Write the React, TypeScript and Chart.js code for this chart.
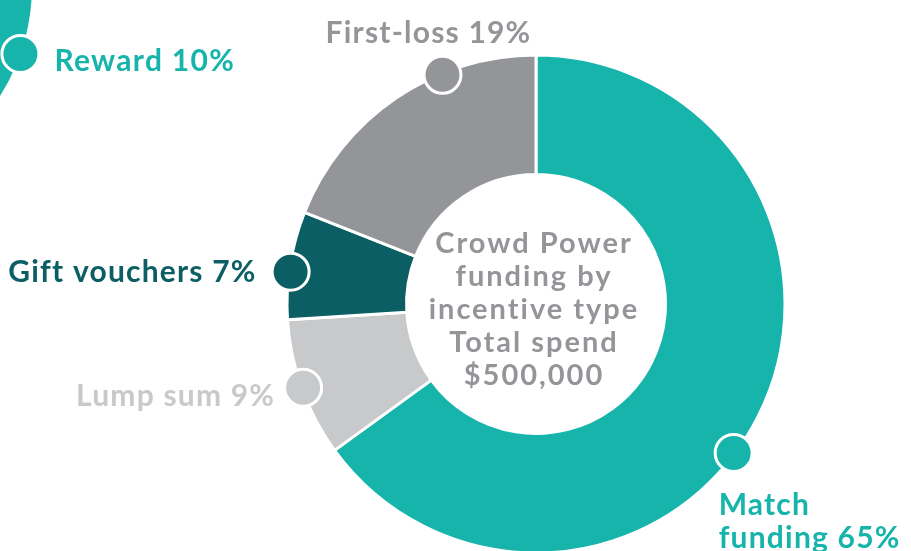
import React, { useEffect, useRef } from "react";
import { Chart, registerables } from "chart.js";

Chart.register(...registerables);

const categories = ["Match funding", "Lump sum", "Gift vouchers", "First-loss"];
const shares = [65, 9, 7, 19];
const labelLines = [["Match", "funding 65%"], ["Lump sum 9%"], ["Gift vouchers 7%"], ["First-loss 19%"]];
const colors = ["#17B4AC", "#C8C9CB", "#0B5F64", "#939598"];
const centerLines = ["Crowd Power", "funding by", "incentive type", "Total spend", "$500,000"];
const rewardLabel = "Reward 10%";

// label placement styling (degrees shift of marker from segment middle, text offsets)
const markerShift = [10, 0, -1.5, 12];
const textStyle = [
  { dx: -15, dy: 62, align: "left" as CanvasTextAlign },
  { dx: -28, dy: 18, align: "right" as CanvasTextAlign },
  { dx: -34, dy: 10, align: "right" as CanvasTextAlign },
  { dx: -14, dy: -32, align: "center" as CanvasTextAlign },
];

const FONT = "Lato, 'Open Sans', sans-serif";

function setSpacing(ctx: any, v: string) {
  try {
    ctx.letterSpacing = v;
  } catch (e) {}
}

const labelPlugin = {
  id: "labelPlugin",
  afterDraw(chart: any) {
    const ctx = chart.ctx as CanvasRenderingContext2D;
    const meta = chart.getDatasetMeta(0);
    const arcs = meta.data;
    if (!arcs.length) return;
    const a0 = arcs[0];
    const cx = a0.x, cy = a0.y;
    const R = a0.outerRadius - 1.5;

    // partial "Reward" ring in the corner
    ctx.save();
    const rcx = -173, rcy = -14, rR = 205;
    ctx.fillStyle = colors[0];
    ctx.beginPath();
    ctx.arc(rcx, rcy, rR, 0, Math.PI * 2);
    ctx.fill();
    const rAng = Math.atan2(54 - rcy, 20.5 - rcx);
    const rmx = rcx + rR * Math.cos(rAng), rmy = rcy + rR * Math.sin(rAng);
    ctx.beginPath();
    ctx.arc(rmx, rmy, 18.5, 0, Math.PI * 2);
    ctx.fillStyle = colors[0];
    ctx.fill();
    ctx.lineWidth = 3;
    ctx.strokeStyle = "#fff";
    ctx.stroke();
    ctx.font = `bold 30px ${FONT}`;
    setSpacing(ctx, "1.3px");
    ctx.textAlign = "left";
    ctx.textBaseline = "alphabetic";
    ctx.fillText(rewardLabel, rmx + 34, rmy + 17);
    ctx.restore();

    arcs.forEach((arc: any, i: number) => {
      const mid = (arc.startAngle + arc.endAngle) / 2 + (markerShift[i] * Math.PI) / 180;
      const mx = cx + R * Math.cos(mid);
      const my = cy + R * Math.sin(mid);
      ctx.save();
      ctx.beginPath();
      ctx.arc(mx, my, 18.5, 0, Math.PI * 2);
      ctx.fillStyle = colors[i];
      ctx.fill();
      ctx.lineWidth = 3;
      ctx.strokeStyle = "#fff";
      ctx.stroke();
      const st = textStyle[i];
      ctx.font = `bold 30px ${FONT}`;
      setSpacing(ctx, "1.2px");
      ctx.textAlign = st.align;
      ctx.textBaseline = "alphabetic";
      ctx.fillStyle = colors[i];
      labelLines[i].forEach((line, k) => {
        ctx.fillText(line, mx + st.dx, my + st.dy + k * 33);
      });
      ctx.restore();
    });

    // center text
    ctx.save();
    ctx.font = `bold 29px ${FONT}`;
    setSpacing(ctx, "2px");
    ctx.textAlign = "center";
    ctx.textBaseline = "alphabetic";
    ctx.fillStyle = "#939598";
    centerLines.forEach((line, k) => {
      ctx.fillText(line, cx - 2, cy - 51 + k * 33);
    });
    ctx.restore();
  },
};

export default function App() {
  const ref = useRef<HTMLCanvasElement>(null);
  useEffect(() => {
    document.body.style.margin = "0";
    const chart = new Chart(ref.current!, {
      type: "doughnut",
      data: {
        labels: categories,
        datasets: [
          {
            data: shares,
            backgroundColor: colors,
            borderColor: "#ffffff",
            borderWidth: 3,
            radius: 249,
            hoverOffset: 0,
          } as any,
        ],
      },
      options: {
        responsive: false,
        animation: false,
        cutout: "52%",
        layout: { padding: { left: 161, right: 0, top: 57, bottom: 0 } },
        plugins: { legend: { display: false }, tooltip: { enabled: false } },
        events: [],
      },
      plugins: [labelPlugin],
    });
    return () => chart.destroy();
  }, []);
  return (
    <div style={{ width: 911, height: 551, background: "#fff" }}>
      <canvas ref={ref} width={911} height={551} />
    </div>
  );
}
